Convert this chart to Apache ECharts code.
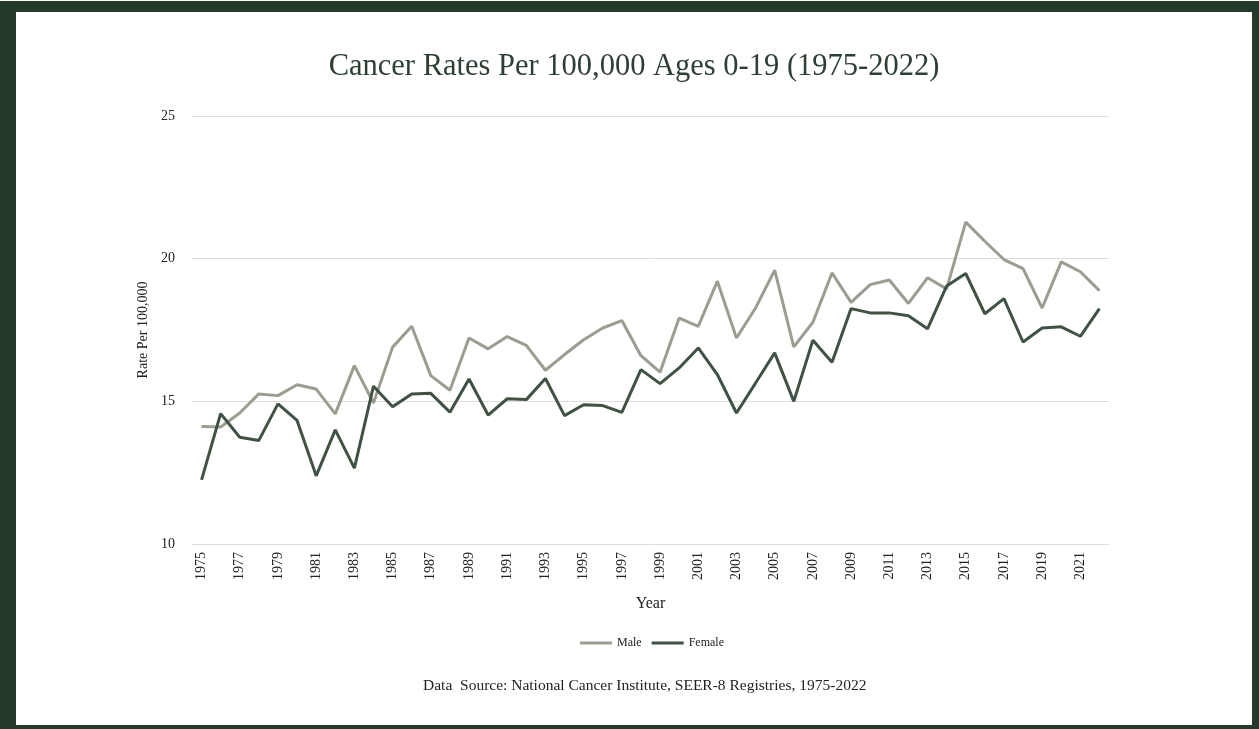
<!DOCTYPE html>
<html>
<head>
<meta charset="utf-8">
<title>Cancer Rates Per 100,000 Ages 0-19</title>
<script src="https://cdn.jsdelivr.net/npm/echarts@6/dist/echarts.min.js"></script>
<style>
    html, body { margin: 0; padding: 0; background: #ffffff; }
    #frame {
        position: absolute; left: 0; top: 1px;
        width: 1259px; height: 728px;
        box-sizing: border-box;
        border-style: solid; border-color: #263a2c;
        border-width: 11px 7px 4px 16px;
        background: #ffffff;
    }
    #main { width: 1236px; height: 713px; }
</style>
</head>
<body>
<div id="frame"><div id="main"></div></div>
<script type="text/javascript">
    // 年份
    var years = [];
    for (var y = 1975; y <= 2022; y++) { years.push(String(y)); }

    // 男性发病率
    var male = [14.12, 14.10, 14.59, 15.26, 15.20, 15.58, 15.43, 14.56, 16.25, 14.94,
        16.90, 17.63, 15.90, 15.39, 17.22, 16.84, 17.27, 16.96, 16.09, 16.64,
        17.16, 17.57, 17.83, 16.60, 16.02, 17.92, 17.63, 19.21, 17.22, 18.27,
        19.60, 16.91, 17.77, 19.50, 18.47, 19.09, 19.25, 18.43, 19.33, 18.94,
        21.28, 20.61, 19.97, 19.65, 18.27, 19.89, 19.54, 18.88];

    // 女性发病率
    var female = [12.25, 14.57, 13.74, 13.63, 14.91, 14.33, 12.39, 14.00, 12.66, 15.53,
        14.81, 15.26, 15.28, 14.62, 15.78, 14.52, 15.09, 15.06, 15.80, 14.50,
        14.88, 14.85, 14.61, 16.11, 15.62, 16.17, 16.87, 15.94, 14.59, 15.64,
        16.70, 15.00, 17.14, 16.37, 18.25, 18.10, 18.10, 18.00, 17.54, 19.04,
        19.48, 18.07, 18.60, 17.08, 17.57, 17.61, 17.28, 18.25];

    var yTicks = [10, 15, 20, 25];

    var serif = '"Liberation Serif", "DejaVu Serif", serif';

    var myChart = echarts.init(document.getElementById('main'));

    var option = {
        backgroundColor: '#ffffff',
        animation: false,
        title: [{
            text: 'Cancer Rates Per 100,000 Ages 0-19 (1975-2022)',
            left: 'center',
            top: 34,
            textStyle: { fontFamily: serif, fontSize: 30.5, fontWeight: 'normal', color: '#2e3f33' }
        }, {
            text: 'Data  Source: National Cancer Institute, SEER-8 Registries, 1975-2022',
            left: 402,
            top: 661,
            textStyle: { fontFamily: serif, fontSize: 15.5, fontWeight: 'normal', color: '#222222' }
        }],
        legend: {
            data: ['Male', 'Female'],
            bottom: 71,
            left: 559,
            itemWidth: 32,
            itemHeight: 3,
            itemGap: 10,
            icon: 'rect',
            textStyle: { fontFamily: serif, fontSize: 12, color: '#222222' }
        },
        grid: {
            left: 176,
            right: 143,
            top: 104,
            bottom: 181
        },
        xAxis: {
            type: 'category',
            data: years,
            boundaryGap: true,
            name: 'Year',
            nameLocation: 'middle',
            nameGap: 52,
            nameTextStyle: { fontFamily: serif, fontSize: 16, color: '#222222' },
            axisLine: { show: false },
            axisTick: { show: false },
            axisLabel: {
                interval: 1,
                rotate: 90,
                margin: 8,
                fontFamily: serif,
                fontSize: 14,
                color: '#222222'
            }
        },
        yAxis: {
            type: 'value',
            min: yTicks[0],
            max: yTicks[yTicks.length - 1],
            interval: 5,
            name: 'Rate Per 100,000',
            nameLocation: 'middle',
            nameGap: 31,
            nameTextStyle: { fontFamily: serif, fontSize: 14, color: '#222222' },
            axisLine: { show: false },
            axisTick: { show: false },
            axisLabel: { fontFamily: serif, fontSize: 14, color: '#222222', margin: 17 },
            splitLine: { lineStyle: { color: '#dedede', width: 1 } }
        },
        series: [
            {
                name: 'Male',
                type: 'line',
                data: male,
                symbol: 'none',
                lineStyle: { color: '#9a9d90', width: 3 },
                itemStyle: { color: '#9a9d90' }
            },
            {
                name: 'Female',
                type: 'line',
                data: female,
                symbol: 'none',
                lineStyle: { color: '#3f5244', width: 3 },
                itemStyle: { color: '#3f5244' }
            }
        ]
    };

    myChart.setOption(option);
</script>
</body>
</html>
